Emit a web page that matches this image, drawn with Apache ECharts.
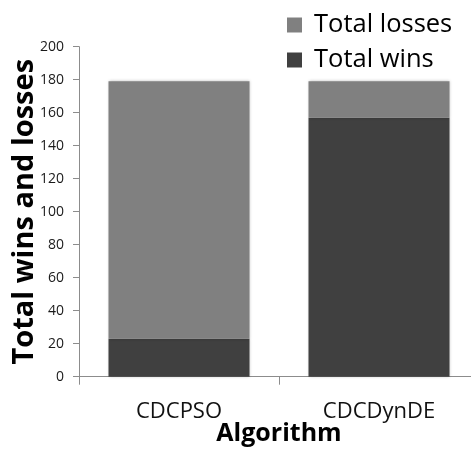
<!DOCTYPE html>
<html>
<head>
<meta charset="utf-8">
<script src="https://cdn.jsdelivr.net/npm/echarts@6/dist/echarts.min.js"></script>
<style>
html,body{margin:0;padding:0;background:#fff;}
#chart{width:471px;height:451px;}
</style>
</head>
<body>
<div id="chart"></div>
<script>
const categories = ['CDCPSO', 'CDCDynDE'];
const totalWins = [23, 157];
const totalLosses = [156, 22];
const yTicks = [0, 20, 40, 60, 80, 100, 120, 140, 160, 180, 200];

const chart = echarts.init(document.getElementById('chart'), null, {renderer: 'canvas'});
const axisColor = '#8c8c8c';
const font = '"Open Sans", sans-serif';
const barShadow = {shadowColor: 'rgba(0,0,0,0.25)', shadowBlur: 3, shadowOffsetX: 0, shadowOffsetY: 0};

chart.setOption({
  animation: false,
  backgroundColor: '#fff',
  grid: {left: 79, right: -8, top: 46.7, bottom: 74.3, outerBoundsMode: 'none', containLabel: false},
  legend: {
    orient: 'vertical',
    left: 287,
    top: 12,
    padding: 0,
    itemWidth: 15,
    itemHeight: 15,
    itemGap: 9,
    icon: 'rect',
    data: ['Total losses', 'Total wins'],
    textStyle: {fontFamily: font, fontSize: 25.5, color: '#000', padding: [0, 0, 0, 7]}
  },
  xAxis: {
    type: 'category',
    data: categories,
    name: 'Algorithm',
    nameLocation: 'middle',
    nameGap: 45,
    nameMoveOverlap: false,
    nameTextStyle: {fontFamily: font, fontSize: 25, fontWeight: 'bold', color: '#000'},
    axisLine: {show: true, lineStyle: {color: axisColor, width: 1}},
    axisTick: {show: true, length: 8, lineStyle: {color: axisColor}},
    axisLabel: {fontFamily: font, fontSize: 22, color: '#111', margin: 24}
  },
  yAxis: {
    type: 'value',
    min: yTicks[0],
    max: yTicks[yTicks.length - 1],
    interval: yTicks[1] - yTicks[0],
    name: 'Total wins and losses',
    nameLocation: 'middle',
    nameRotate: 90,
    nameGap: 40,
    nameMoveOverlap: false,
    nameTextStyle: {fontFamily: font, fontSize: 29, fontWeight: 'bold', color: '#000'},
    axisLine: {show: true, lineStyle: {color: axisColor, width: 1}},
    axisTick: {show: true, length: 6, lineStyle: {color: axisColor}},
    axisLabel: {fontFamily: font, fontSize: 14, color: '#1a1a1a', margin: 15},
    splitLine: {show: false}
  },
  series: [
    {
      name: 'Total wins',
      type: 'bar',
      stack: 'total',
      barWidth: 141,
      data: totalWins,
      itemStyle: Object.assign({color: '#404040'}, barShadow)
    },
    {
      name: 'Total losses',
      type: 'bar',
      stack: 'total',
      barWidth: 141,
      data: totalLosses,
      itemStyle: Object.assign({color: '#808080'}, barShadow)
    }
  ]
});
</script>
</body>
</html>
